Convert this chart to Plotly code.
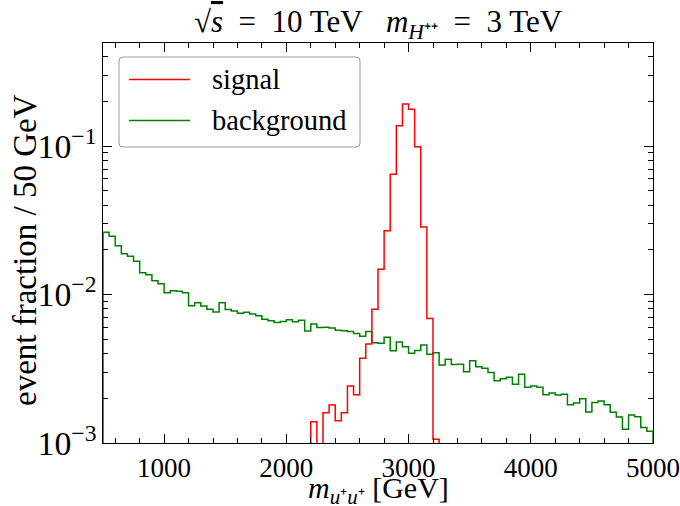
import numpy as np
import plotly.graph_objects as go

# ---- data ----
bin_width = 50
bg_start = 500
background = [
    0.02624, 0.02465, 0.02131, 0.01883, 0.01808, 0.01673, 0.01402, 0.01359, 0.01239, 0.01182,
    0.01028, 0.01061, 0.01051, 0.01028, 0.008405, 0.008806, 0.008367, 0.007948, 0.007624, 0.008806,
    0.007925, 0.007743, 0.007471, 0.007588, 0.007391, 0.007197, 0.006808, 0.006662, 0.006478, 0.006580,
    0.006766, 0.006550, 0.006704, 0.005678, 0.006329, 0.005995, 0.006013, 0.005948, 0.005740, 0.005696,
    0.005633, 0.005462, 0.005230, 0.005633, 0.004736, 0.004692, 0.005150, 0.004183, 0.004787, 0.004451,
    0.004018, 0.004196, 0.004570, 0.003957, 0.004057, 0.003353, 0.003661, 0.003379, 0.003388, 0.003021,
    0.003582, 0.003264, 0.003184, 0.002983, 0.002624, 0.002706, 0.002770, 0.002489, 0.002905, 0.002372,
    0.002420, 0.002372, 0.002115, 0.002171, 0.002104, 0.002127, 0.001811, 0.001859, 0.001987, 0.001617,
    0.001874, 0.001918, 0.001811, 0.001612, 0.001497, 0.001237, 0.001543, 0.001504, 0.001272, 0.001199,
]
sig_start = 2200
signal = [
    0.00139, 0.0, 0.0016, 0.0018, 0.00141, 0.0016, 0.00242, 0.00211, 0.00372, 0.00465,
    0.00795, 0.0148, 0.0269, 0.0646, 0.137, 0.192, 0.177, 0.099, 0.0285, 0.0069, 0.00106,
]
x_tick_vals = [1000, 2000, 3000, 4000, 5000]
EN = "\u2002"
title_text = ("√<span style='text-decoration:overline'><i>s</i></span>" + EN + "=" + EN +
              "10 TeV" + EN + " <i>m</i><sub><i>H</i>⁺⁺</sub>" + EN + "=" + EN + "3 TeV")
xlabel = "<i>m</i><sub><i>u</i>⁺<i>u</i>⁺</sub> [GeV]"
ylabel = "event fraction / 50 GeV"
legend_names = ["signal", "background"]
colors = {"signal": "#ff0000", "background": "#008000"}

FLOOR = 1e-9  # stands in for empty bins on the log axis (drawn below the frame)


def step_xy(start, vals):
    vals = np.asarray(vals, dtype=float)
    edges = start + bin_width * np.arange(len(vals) + 1)
    v = np.where(vals > 0, vals, FLOOR)
    x = np.concatenate([[edges[0]], edges[:-1], [edges[-1]]])
    y = np.concatenate([[FLOOR], v, [FLOOR]])
    return x, y


FONT = "Liberation Serif"
fig = go.Figure()
for name, start, vals in [("background", bg_start, background), ("signal", sig_start, signal)]:
    x, y = step_xy(start, vals)
    fig.add_trace(go.Scatter(x=x, y=y, mode="lines", line_shape="hv",
                             line=dict(color=colors[name], width=1.5),
                             name=name, showlegend=False, hoverinfo="skip"))

# plot area in pixels
L, R, T, B = 103, 653, 43, 443
W, H = R - L, B - T


def px(xp):
    return (xp - L) / W


def py(yp):
    return (B - yp) / H


# legend drawn as shapes + text
bx0, bx1, by0, by1 = px(119), px(360), py(147), py(57)
rx, ry = 4 / W, 4 / H
path = (f"M{bx0+rx},{by1} L{bx1-rx},{by1} Q{bx1},{by1} {bx1},{by1-ry} "
        f"L{bx1},{by0+ry} Q{bx1},{by0} {bx1-rx},{by0} L{bx0+rx},{by0} "
        f"Q{bx0},{by0} {bx0},{by0+ry} L{bx0},{by1-ry} Q{bx0},{by1} {bx0+rx},{by1} Z")
shapes = [dict(type="path", xref="paper", yref="paper", path=path,
               line=dict(color="#9a9a9a", width=1), fillcolor="rgba(255,255,255,0.8)")]
annotations = []
for i, name in enumerate(legend_names):
    yy = py(79.5 + i * 41)
    shapes.append(dict(type="line", xref="paper", yref="paper", x0=px(129), x1=px(190),
                       y0=yy, y1=yy, line=dict(color=colors[name], width=1.5)))
    annotations.append(dict(xref="paper", yref="paper", x=px(210), y=yy, text=name,
                            showarrow=False, xanchor="left", yanchor="middle",
                            font=dict(family=FONT, size=28.5, color="black")))

annotations.append(dict(xref="paper", yref="paper", x=0.5, y=py(24), text=title_text,
                        showarrow=False, xanchor="center", yanchor="middle",
                        font=dict(family=FONT, size=31, color="black")))
annotations.append(dict(xref="paper", yref="paper", x=0.5, y=py(490), text=xlabel,
                        showarrow=False, xanchor="center", yanchor="middle",
                        font=dict(family=FONT, size=30, color="black")))
annotations.append(dict(xref="paper", yref="paper", x=px(25), y=py(250), text=ylabel,
                        showarrow=False, xanchor="center", yanchor="middle", textangle=-90,
                        font=dict(family=FONT, size=33, color="black")))

fig.update_layout(
    width=680, height=506,
    margin=dict(l=L, r=680 - R, t=T, b=506 - B, pad=0),
    paper_bgcolor="white", plot_bgcolor="white",
    shapes=shapes, annotations=annotations,
    xaxis=dict(range=[500, 5000], tickvals=x_tick_vals, ticks="inside", ticklen=9,
               automargin=False,
               tickwidth=1.1, tickcolor="black", mirror="allticks", showline=True,
               linecolor="black", linewidth=1.3, showgrid=False, zeroline=False,
               tickfont=dict(family=FONT, size=27, color="black"),
               minor=dict(dtick=200, tick0=0, ticks="inside", ticklen=5, tickcolor="black",
                          tickwidth=1, showgrid=False)),
    yaxis=dict(type="log", range=[-3, -0.306], dtick=1, exponentformat="power",
               automargin=False,
               ticks="inside", ticklen=9, tickwidth=1.1, tickcolor="black",
               mirror="allticks", showline=True, linecolor="black", linewidth=1.3,
               showgrid=False, zeroline=False,
               tickfont=dict(family=FONT, size=27, color="black"),
               minor=dict(dtick="D1", ticks="inside", ticklen=5, tickcolor="black",
                          tickwidth=1, showgrid=False)),
)
fig.write_html("out.html")
